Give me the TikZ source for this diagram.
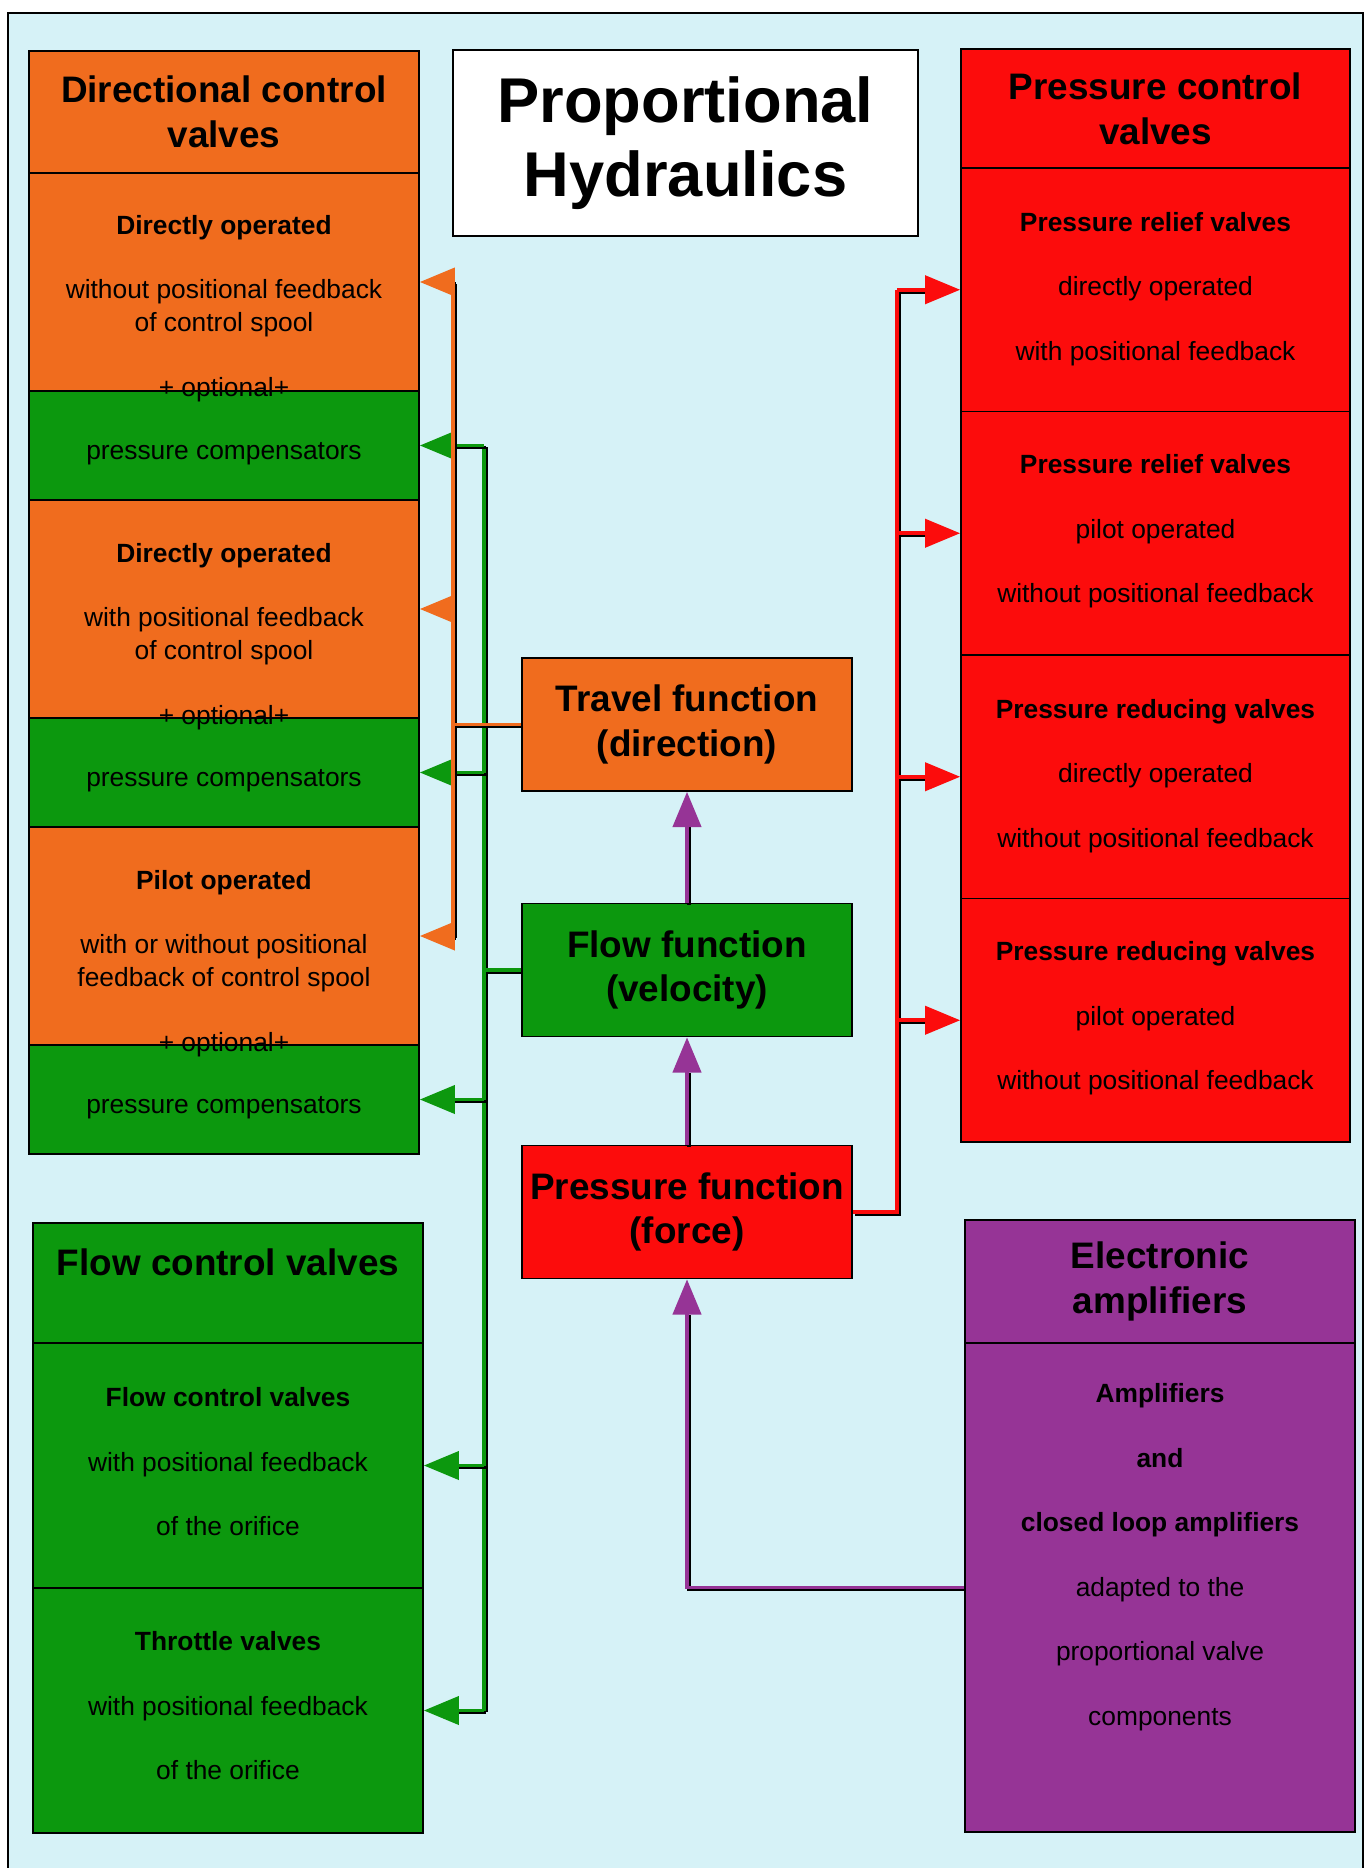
\documentclass[tikz,border=0pt]{standalone}
\usepackage{fontspec}
\setmainfont{Liberation Sans}
\usetikzlibrary{arrows.meta}
\definecolor{bgcyan}{RGB}{214,242,247}
\definecolor{dirorange}{RGB}{240,108,30}
\definecolor{flowgreen}{RGB}{12,152,14}
\definecolor{presred}{RGB}{252,12,12}
\definecolor{ampviolet}{RGB}{150,52,150}

\begin{document}
\begin{tikzpicture}[x=0.02cm,y=-0.02cm]
    \tikzset{panel/.style={rectangle,draw=black,line width=1pt,fill=#1,inner sep=0pt,align=center},
             colbox/.style={panel=#1,minimum width=7.8cm},
             funcbox/.style={panel=#1,minimum width=6.6cm,minimum height=2.66cm,font=\fontsize{21}{25.5}\selectfont\bfseries},
             compbox/.style={colbox=flowgreen,minimum height=2.18cm,font=\fontsize{15}{18.7}\selectfont,text height=19pt},
             headtext/.style={font=\fontsize{21}{25.5}\selectfont\bfseries,align=center,inner sep=0pt},
             bodytext/.style={font=\fontsize{15}{18.7}\selectfont,align=center,inner sep=0pt},
             stacktext/.style={font=\fontsize{15}{36.7}\selectfont,align=center,inner sep=0pt},
             link/.style={draw=#1,line width=2.2pt,preaction={draw=black,line width=2.2pt,arrows=-,transform canvas={shift={(1.1pt,-1.1pt)}}}},
             feed/.style={draw=#1,line width=2.2pt,-{Triangle[length=20pt,width=16pt]},preaction={draw=black,line width=2.2pt,arrows=-,shorten >=19pt,transform canvas={shift={(1.1pt,-1.1pt)}}}}}
    \useasboundingbox (0,0) rectangle (1367,1868);
    \fill[white] (0,0) rectangle (1367,1868);
    \fill[bgcyan] (8,13) rectangle (1363,1868);
    \draw[line width=1.2pt] (8,1868) -- (8,13) -- (1363,13) -- (1363,1868);

    \node[colbox=dirorange,minimum height=2.44cm,font=\fontsize{21}{25.5}\selectfont\bfseries] (dh) at (224,112) {Directional control\\valves};
    \node[colbox=dirorange,minimum height=4.36cm] (d1) at (224,282) {};
    \node[compbox] (c1) at (224,445.5) {pressure compensators};
    \node[colbox=dirorange,minimum height=4.36cm] (d2) at (224,609) {};
    \node[compbox] (c2) at (224,772.5) {pressure compensators};
    \node[colbox=dirorange,minimum height=4.36cm] (d3) at (224,936) {};
    \node[compbox] (c3) at (224,1099.5) {pressure compensators};
    \node[bodytext] (d1t) at (224,276) {\textbf{Directly operated}\\[18pt]without positional feedback\\of control spool};
    \node[bodytext] (d2t) at (224,604) {\textbf{Directly operated}\\[18pt]with positional feedback\\of control spool};
    \node[bodytext] (d3t) at (224,931) {\textbf{Pilot operated}\\[18pt]with or without positional\\feedback of control spool};
    \node[bodytext,anchor=base] (d1o) at (224,397) {+ optional+};
    \node[bodytext,anchor=base] (d2o) at (224,724) {+ optional+};
    \node[bodytext,anchor=base] (d3o) at (224,1051) {+ optional+};

    \node[panel=white,minimum width=9.3cm,minimum height=3.72cm,font=\fontsize{36}{42}\selectfont\bfseries] (title) at (685.5,143) {Proportional\\Hydraulics};

    \node[panel=presred,minimum width=7.78cm,minimum height=2.38cm,font=\fontsize{21}{25.5}\selectfont\bfseries] (ph) at (1155.5,108.5) {Pressure control\\valves};
    \node[panel=presred,minimum width=7.78cm,minimum height=4.87cm] (p1) at (1155.5,289.75) {};
    \node[panel=presred,minimum width=7.78cm,minimum height=4.87cm] (p2) at (1155.5,533.25) {};
    \node[panel=presred,minimum width=7.78cm,minimum height=4.87cm] (p3) at (1155.5,776.75) {};
    \node[panel=presred,minimum width=7.78cm,minimum height=4.87cm] (p4) at (1155.5,1020.25) {};
    \node[stacktext] (p1t) at (1155.5,289) {\textbf{Pressure relief valves}\\directly operated\\with positional feedback};
    \node[stacktext] (p2t) at (1155.5,531.5) {\textbf{Pressure relief valves}\\pilot operated\\without positional feedback};
    \node[stacktext] (p3t) at (1155.5,776) {\textbf{Pressure reducing valves}\\directly operated\\without positional feedback};
    \node[stacktext] (p4t) at (1155.5,1018.5) {\textbf{Pressure reducing valves}\\pilot operated\\without positional feedback};

    \node[funcbox=dirorange] (tr) at (687,724.5) {Travel function\\(direction)};
    \node[funcbox=flowgreen] (fl) at (687,970) {Flow function\\(velocity)};
    \node[funcbox=presred] (pf) at (687,1212) {Pressure function\\(force)};

    \node[colbox=flowgreen,minimum height=2.4cm] (fh) at (228,1283) {};
    \node[colbox=flowgreen,minimum height=4.9cm] (f1) at (228,1465.5) {};
    \node[colbox=flowgreen,minimum height=4.9cm] (f2) at (228,1710.5) {};
    \node[headtext] (fht) at (228,1262) {Flow control valves};
    \node[stacktext] (f1t) at (228,1462) {\textbf{Flow control valves}\\with positional feedback\\of the orifice};
    \node[stacktext] (f2t) at (228,1706) {\textbf{Throttle valves}\\with positional feedback\\of the orifice};

    \node[colbox=ampviolet,minimum height=2.46cm,font=\fontsize{21}{25.5}\selectfont\bfseries] (ah) at (1160,1281.5) {Electronic\\amplifiers};
    \node[colbox=ampviolet,minimum height=9.78cm] (ab) at (1160,1587.5) {};
    \node[stacktext] (abt) at (1160,1557) {\textbf{Amplifiers}\\\textbf{and}\\\textbf{closed loop amplifiers}\\adapted to the\\proportional valve\\components};

    \coordinate (obus) at (453,0);
    \coordinate (gbus) at (484,0);
    \coordinate (rbus) at (897,0);

    \draw[link=flowgreen] (gbus |- c1.east) -- (gbus |- f2.east);
    \draw[link=flowgreen] (fl.west) -- (gbus |- fl.west);
    \draw[feed=flowgreen] (gbus |- c1.east) -- (c1.east);
    \draw[feed=flowgreen] (gbus |- c2.east) -- (c2.east);
    \draw[feed=flowgreen] (gbus |- c3.east) -- (c3.east);
    \draw[feed=flowgreen] (gbus |- f1.east) -- (f1.east);
    \draw[feed=flowgreen] (gbus |- f2.east) -- (f2.east);

    \draw[link=dirorange] (obus |- d1.east) -- (obus |- d3.east);
    \draw[link=dirorange] (tr.west) -- (obus |- tr.west);
    \draw[feed=dirorange] (obus |- d1.east) -- (d1.east);
    \draw[feed=dirorange] (obus |- d2.east) -- (d2.east);
    \draw[feed=dirorange] (obus |- d3.east) -- (d3.east);

    \draw[link=presred] (pf.east) -| (rbus |- p1.west);
    \draw[feed=presred] (rbus |- p1.west) -- (p1.west);
    \draw[feed=presred] (rbus |- p2.west) -- (p2.west);
    \draw[feed=presred] (rbus |- p3.west) -- (p3.west);
    \draw[feed=presred] (rbus |- p4.west) -- (p4.west);

    \draw[feed=ampviolet] (ab.west) -| (pf.south);
    \draw[feed=ampviolet] (pf.north) -- (fl.south);
    \draw[feed=ampviolet] (fl.north) -- (tr.south);
\end{tikzpicture}
\end{document}
